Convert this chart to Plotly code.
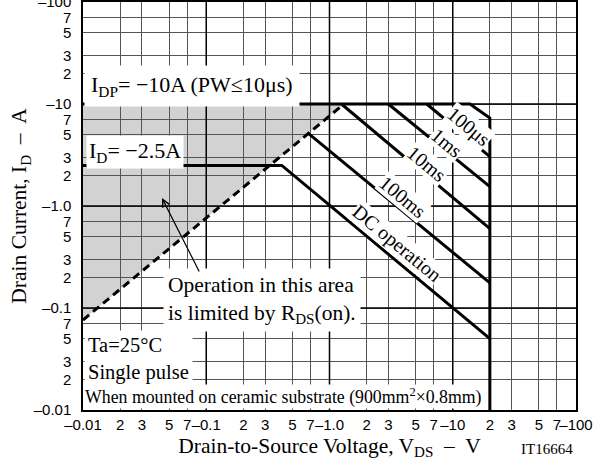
import plotly.graph_objects as go

# ---- data (magnitudes; axis labels carry the minus sign) ----
tick_vals = [0.01, 0.02, 0.03, 0.05, 0.07, 0.1, 0.2, 0.3, 0.5, 0.7,
             1, 2, 3, 5, 7, 10, 20, 30, 50, 70, 100]
x_tick_text = ["–0.01", "2", "3", "5", "7", "–0.1", "2", "3", "5", "7",
               "–1.0", "2", "3", "5", "7", "–10", "2", "3", "5", "7", "–100"]
y_tick_text = ["–0.01", "2", "3", "5", "7", "–0.1", "2", "3", "5", "7",
               "–1.0", "2", "3", "5", "7", "–10", "2", "3", "5", "7", "–100"]
decades = [0.01, 0.1, 1, 10, 100]

# RDS(on) limit (dashed)
rds_v = [0.01, 1.31]
rds_i = [0.0763, 10]
# IDP limit (PW<=10us) with corner and VDSS vertical
idp_v = [0.01, 13.8, 20, 20]
idp_i = [10, 10, 7.3, 0.01]
# ID limit + DC operation
dc_v = [0.01, 0.41, 20]
dc_i = [2.5, 2.5, 0.05]
# pulse lines
p100us_v = [6.15, 20]
p100us_i = [10, 3.05]
p1ms_v = [3.0, 20]
p1ms_i = [10, 1.55]
p10ms_v = [1.25, 20]
p10ms_i = [10, 0.6]
p100ms_v = [0.673, 20]
p100ms_i = [5.16, 0.176]

SERIF = "Liberation Serif, Times New Roman, serif"
SANS = "Liberation Sans, Arial, sans-serif"

fig = go.Figure()

# decade grid lines (heavier)
for d in decades[1:-1]:
    fig.add_trace(go.Scatter(x=[d, d], y=[decades[0], decades[-1]], mode="lines",
                             line=dict(color="black", width=1.5), hoverinfo="skip"))
    fig.add_trace(go.Scatter(x=[decades[0], decades[-1]], y=[d, d], mode="lines",
                             line=dict(color="black", width=1.5), hoverinfo="skip"))

lw = 3
fig.add_trace(go.Scatter(x=rds_v, y=rds_i, mode="lines",
                         line=dict(color="black", width=lw, dash="8px,5px")))
for vx, iy in [(idp_v, idp_i), (dc_v, dc_i), (p100us_v, p100us_i), (p1ms_v, p1ms_i),
               (p10ms_v, p10ms_i), (p100ms_v, p100ms_i)]:
    fig.add_trace(go.Scatter(x=vx, y=iy, mode="lines",
                             line=dict(color="black", width=lw)))

# shaded RDS(on)-limited area (below grid)
path = "M {},{} L {},{} L {},{} Z".format(rds_v[0], rds_i[0], rds_v[0], rds_i[1], rds_v[1], rds_i[1])
fig.add_shape(type="path", path=path, xref="x", yref="y", layer="below",
              fillcolor="#d2d2d2", line=dict(width=0))

annots = []
def box(text, x, y, size=21.5, xanchor="left", yanchor="middle", pad=3, align="left"):
    annots.append(dict(text=text, x=x, y=y, xref="x", yref="y", showarrow=False,
                       xanchor=xanchor, yanchor=yanchor, align=align,
                       font=dict(family=SERIF, size=size, color="black"),
                       bgcolor="white", borderpad=pad))

box("I<sub>DP</sub>= −10A (PW≤10μs)", -1.988, 1.176, size=22, pad=6)
box("I<sub>D</sub>= −2.5A", -1.975, 0.534, size=22, pad=2)
box("Operation in this area<br>is limited by R<sub>DS</sub>(on).", -1.351, -0.926, pad=4)
box("When mounted on ceramic substrate (900mm<sup>2</sup>×0.8mm)", -1.988, -1.992,
    size=17.8, yanchor="bottom", pad=0)
box("Ta=25°C<br>Single pulse", -1.988, -1.50, size=20.5, pad=3)

for txt, x, y in [("100μs", 1.124, 0.775), ("1ms", 0.953, 0.618), ("10ms", 0.791, 0.412),
                  ("100ms", 0.596, 0.088), ("DC operation", 0.548, -0.363)]:
    annots.append(dict(text=txt, x=x, y=y, xref="x", yref="y", showarrow=False,
                       textangle=39.6, font=dict(family=SERIF, size=20, color="black"),
                       bgcolor="white", borderpad=0))

annots.append(dict(text="", x=-1.359, y=0.078, ax=-1.051, ay=-0.657, xref="x", yref="y",
                   axref="x", ayref="y", showarrow=True, arrowhead=5, arrowsize=1.2,
                   arrowwidth=1.2, arrowcolor="black"))
annots.append(dict(text="IT16664", x=0.941, y=-0.095, xref="paper", yref="paper",
                   xanchor="center", yanchor="middle",
                   showarrow=False, font=dict(family=SERIF, size=15, color="black")))

axis_common = dict(type="log", range=[-2, 2], tickvals=tick_vals, showgrid=True,
                   gridcolor="#555", gridwidth=1, showline=True, mirror=True,
                   linecolor="black", linewidth=1.5, ticks="", zeroline=False,
                   tickangle=0, ticklabeloverflow="allow",
                   tickfont=dict(family=SANS, size=15, color="black"), automargin=False)

fig.update_layout(
    width=607, height=472, margin=dict(l=83, r=31, t=2, b=62, autoexpand=False),
    plot_bgcolor="white", paper_bgcolor="white", showlegend=False,
    xaxis=dict(**axis_common, ticktext=x_tick_text,
               title=dict(text="Drain-to-Source Voltage, V<sub>DS</sub>  –  V",
                          font=dict(family=SERIF, size=21.5, color="black"), standoff=6)),
    yaxis=dict(**axis_common, ticktext=y_tick_text, ticklabelstandoff=7,
               title=dict(text="Drain Current, I<sub>D</sub>  –  A",
                          font=dict(family=SERIF, size=21.5, color="black"), standoff=1)),
    annotations=annots,
)

fig.write_html("out.html", config={"displayModeBar": False},
               post_script="document.body.style.margin='0px';")
